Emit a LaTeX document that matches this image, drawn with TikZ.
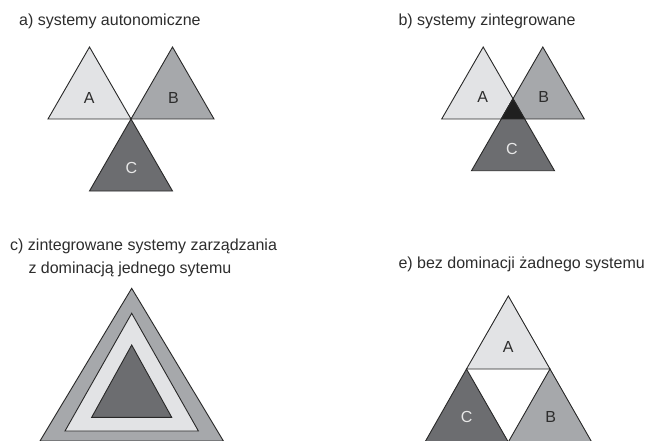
\documentclass[tikz,border=0pt]{standalone}
\usepackage{fontspec}
\setmainfont{Liberation Sans}
\definecolor{lite}{RGB}{226,227,229}
\definecolor{mid}{RGB}{166,168,171}
\definecolor{dark}{RGB}{108,109,112}
\definecolor{ink}{RGB}{40,40,40}
\definecolor{txt}{RGB}{45,45,45}
\definecolor{ctxt}{RGB}{232,232,232}
\begin{document}
\begin{tikzpicture}[x=1pt,y=-1pt,
  tri/.style={draw=ink,line width=0.9pt,line join=miter},
  ttl/.style={anchor=base west,inner sep=0pt,text=txt,font=\fontsize{16}{19}\selectfont},
  lbl/.style={inner sep=0pt,text=txt,font=\fontsize{16}{19}\selectfont},
  lblc/.style={lbl,text=ctxt}]
\useasboundingbox[fill=white] (0,0) rectangle (658,441);

% a) systemy autonomiczne
\node[ttl] (ta) at (19,25.5) {a) systemy autonomiczne};
\filldraw[tri,fill=lite] (48,119) -- (89.5,47) -- (131,119) -- cycle;
\filldraw[tri,fill=mid] (131,119) -- (172.5,47) -- (214,119) -- cycle;
\filldraw[tri,fill=dark] (131,119) -- (172.5,191) -- (89.5,191) -- cycle;
\node[lbl] (aA) at (89.3,97.5) {A};
\node[lbl] (aB) at (173.5,97.5) {B};
\node[lblc] (aC) at (131.5,168.3) {C};

% b) systemy zintegrowane
\node[ttl] (tb) at (398.3,25.5) {b) systemy zintegrowane};
\filldraw[tri,fill=lite] (441.7,119) -- (483.2,47) -- (524.7,119) -- cycle;
\filldraw[tri,fill=mid] (501.3,119) -- (542.8,47) -- (584.3,119) -- cycle;
\filldraw[tri,fill=dark] (513,98.7) -- (554.5,170.7) -- (471.5,170.7) -- cycle;
\filldraw[tri,fill=black!88] (501.3,119) -- (513,98.7) -- (524.7,119) -- cycle;
\node[lbl] (bA) at (482.7,96.7) {A};
\node[lbl] (bB) at (543.7,96.7) {B};
\node[lblc] (bC) at (512,149.3) {C};

% c) zintegrowane systemy zarzadzania
\node[ttl] (tc1) at (10,250) {c) zintegrowane systemy zarządzania};
\node[ttl] (tc2) at (28.3,273) {z dominacją jednego sytemu};
\filldraw[tri,fill=mid] (40,441) -- (131.7,288.3) -- (223.4,441) -- cycle;
\filldraw[tri,fill=lite] (65,431) -- (131.7,313.3) -- (198.4,431) -- cycle;
\filldraw[tri,fill=dark] (91.7,417.3) -- (131.7,345) -- (171.7,417.3) -- cycle;

% e) bez dominacji zadnego systemu
\node[ttl] (te) at (398.3,268.3) {e) bez dominacji żadnego systemu};
\filldraw[tri,fill=lite] (466.5,369) -- (508.3,296) -- (550,369) -- cycle;
\filldraw[tri,fill=dark] (425,442) -- (466.5,369) -- (508.3,442) -- cycle;
\filldraw[tri,fill=mid] (508.3,442) -- (550,369) -- (591.7,442) -- cycle;
\node[lbl] (eA) at (508.3,346.7) {A};
\node[lblc] (eC) at (466.7,416.7) {C};
\node[lbl] (eB) at (550.7,416.7) {B};
\end{tikzpicture}
\end{document}
